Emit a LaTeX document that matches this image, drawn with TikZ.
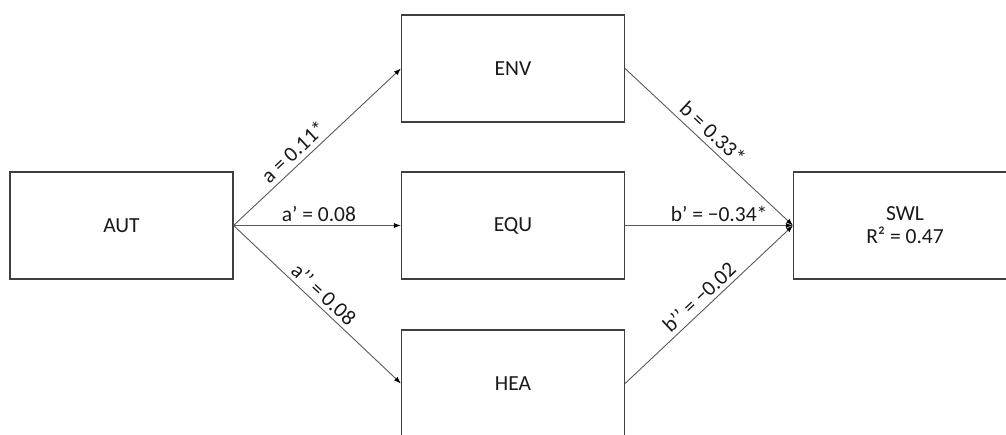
\documentclass[tikz,border=0pt]{standalone}
\usepackage{fontspec}
\setmainfont{Carlito}
\usetikzlibrary{arrows.meta}
\definecolor{boxline}{HTML}{3F3F3F}
\definecolor{pathline}{HTML}{5A5A5A}
\tikzset{
  var/.style={draw=boxline, line width=1.1pt, minimum width=223pt, minimum height=107pt,
    inner sep=0pt, font=\fontsize{21.5}{25}\selectfont, text=black!90, align=center},
  path/.style={draw=pathline, line width=0.9pt,
    -{Latex[length=7pt,width=5pt,color=black]}},
  coef/.style={font=\fontsize{21.5}{25}\selectfont, text=black!90, sloped, inner sep=2pt}
}
\begin{document}
\begin{tikzpicture}[x=1pt,y=1pt]
  \useasboundingbox (0,0) rectangle (1006,435);
  \clip (0,0) rectangle (1006,435);
  % variables of the mediation model
  \node[var] (aut) at (121.5,209.5) {AUT};
  \node[var] (env) at (513,366.5) {ENV};
  \node[var] (equ) at (513,209.5) {EQU};
  \node[var] (hea) at (513,51.5) {HEA};
  \node[var] (swl) at (905,209.5) {SWL\\[-2pt]R² = 0.47};
  % paths a
  \draw[path] (aut.east) -- node[coef, pos=0.41, above=3pt] {a = 0.11*} (env.west);
  \draw[path] (aut.east) -- node[coef, pos=0.51, above=1pt] {a’ = 0.08} (equ.west);
  \draw[path] (aut.east) -- node[coef, pos=0.49, above=2pt] {a’’ = 0.08} (hea.west);
  % paths b
  \draw[path] (env.east) -- node[coef, pos=0.47, above=3pt] {b = 0.33*} (swl.west);
  \draw[path] (equ.east) -- node[coef, pos=0.56, above=1pt] {b’ = −0.34*} (swl.west);
  \draw[path] (hea.east) -- node[coef, pos=0.49, above=2pt] {b’’ = −0.02} (swl.west);
\end{tikzpicture}
\end{document}
